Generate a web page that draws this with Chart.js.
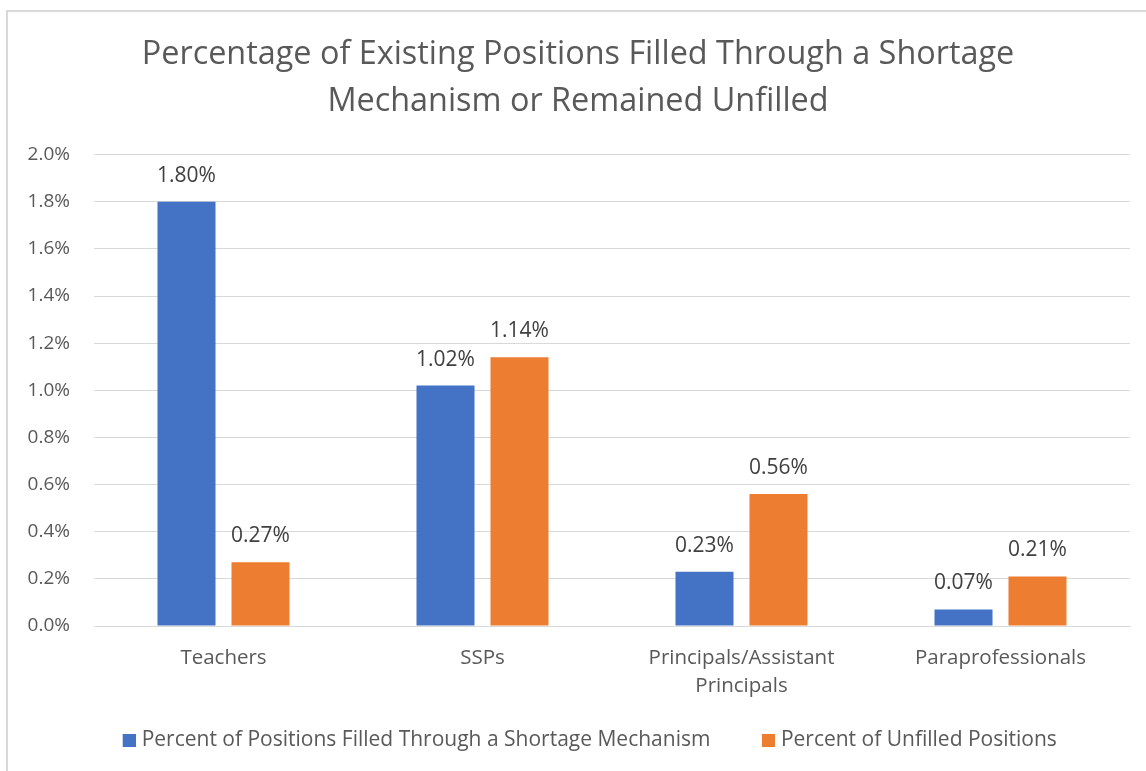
<!DOCTYPE html>
<html>
<head>
<meta charset="utf-8">
<script src="https://cdn.jsdelivr.net/npm/chart.js@4/dist/chart.umd.min.js"></script>
<style>
html,body{margin:0;padding:0;background:#fff;overflow:hidden;}
#frame{position:absolute;left:6px;top:10px;width:1200px;height:800px;border-left:2px solid #d9d9d9;border-top:2px solid #d9d9d9;}
#wrap{position:absolute;left:0;top:0;width:1146px;height:771px;}
</style>
</head>
<body>
<div id="frame"></div>
<div id="wrap"><canvas id="c"></canvas></div>
<script>
const categories = ['Teachers', 'SSPs', ['Principals/Assistant', 'Principals'], 'Paraprofessionals'];
const filledShortage = [1.80, 1.02, 0.23, 0.07];
const unfilled = [0.27, 1.14, 0.56, 0.21];
const seriesNames = ['Percent of Positions Filled Through a Shortage Mechanism', 'Percent of Unfilled Positions'];
const seriesColors = ['#4472c4', '#ed7d31'];
const titleLines = ['Percentage of Existing Positions Filled Through a Shortage', 'Mechanism or Remained Unfilled'];

const FONT = "'Open Sans', sans-serif";
const TEXT = '#595959';

// legend marker: square drawn at the right end of a small image
const MARK_SLOT = 32, MARK_IMG = 41, MARK_SIZE = 13;
function legendMark(color) {
  const cv = document.createElement('canvas');
  cv.width = MARK_IMG; cv.height = MARK_SIZE;
  const g = cv.getContext('2d');
  g.fillStyle = color;
  g.fillRect(MARK_IMG - MARK_SIZE, 0, MARK_SIZE, MARK_SIZE);
  return cv;
}
const legendMarks = seriesColors.map(legendMark);

const valueLabels = {
  id: 'valueLabels',
  afterDatasetsDraw(chart) {
    const ctx = chart.ctx;
    ctx.save();
    ctx.font = "21px " + FONT;
    ctx.fillStyle = '#404040';
    ctx.textAlign = 'center';
    ctx.textBaseline = 'middle';
    chart.data.datasets.forEach((ds, i) => {
      const meta = chart.getDatasetMeta(i);
      meta.data.forEach((bar, j) => {
        ctx.fillText(ds.data[j].toFixed(2) + '%', bar.x, bar.y - 26);
      });
    });
    ctx.restore();
  }
};

new Chart(document.getElementById('c'), {
  type: 'bar',
  data: {
    labels: categories,
    datasets: [
      { label: seriesNames[0], data: filledShortage, backgroundColor: seriesColors[0], categoryPercentage: 0.5714, barPercentage: 0.784 },
      { label: seriesNames[1], data: unfilled, backgroundColor: seriesColors[1], categoryPercentage: 0.5714, barPercentage: 0.784 }
    ]
  },
  options: {
    responsive: true,
    maintainAspectRatio: false,
    animation: false,
    layout: { padding: { left: 18, right: 8, top: 32, bottom: 10.5 } },
    plugins: {
      title: {
        display: true,
        text: titleLines,
        color: TEXT,
        font: { family: FONT, size: 32.4, weight: 'normal', lineHeight: 1.43 },
        padding: { top: 0, bottom: 30 }
      },
      legend: {
        position: 'bottom',
        labels: {
          color: TEXT,
          font: { family: FONT, size: 21 },
          usePointStyle: true,
          pointStyleWidth: MARK_SLOT,
          padding: 28,
          generateLabels(chart) {
            const items = Chart.defaults.plugins.legend.labels.generateLabels(chart);
            items.forEach((it, i) => { it.pointStyle = legendMarks[i]; });
            return items;
          }
        }
      },
      tooltip: { enabled: false }
    },
    scales: {
      x: {
        grid: { display: false, drawTicks: false },
        border: { color: '#d9d9d9', width: 1 },
        ticks: { color: TEXT, font: { family: FONT, size: 20.5, lineHeight: 1.366 }, padding: 18, maxRotation: 0, autoSkip: false },
        afterFit(scale) { scale.height = 75.5; }
      },
      y: {
        min: 0, max: 2.0,
        grid: { color: '#d9d9d9', drawTicks: false },
        border: { display: false },
        ticks: { stepSize: 0.2, color: TEXT, font: { family: FONT, size: 19 }, padding: 24,
          callback: v => v.toFixed(1) + '%' },
        afterFit(scale) { scale.width = 76; }
      },
      // empty right-hand margin of the plot (no ticks, no lines)
      rightMargin: {
        type: 'linear',
        position: 'right',
        grid: { display: false, drawTicks: false },
        border: { display: false },
        ticks: { display: false },
        afterFit(scale) { scale.width = 8; }
      }
    }
  },
  plugins: [valueLabels]
});
</script>
</body>
</html>
